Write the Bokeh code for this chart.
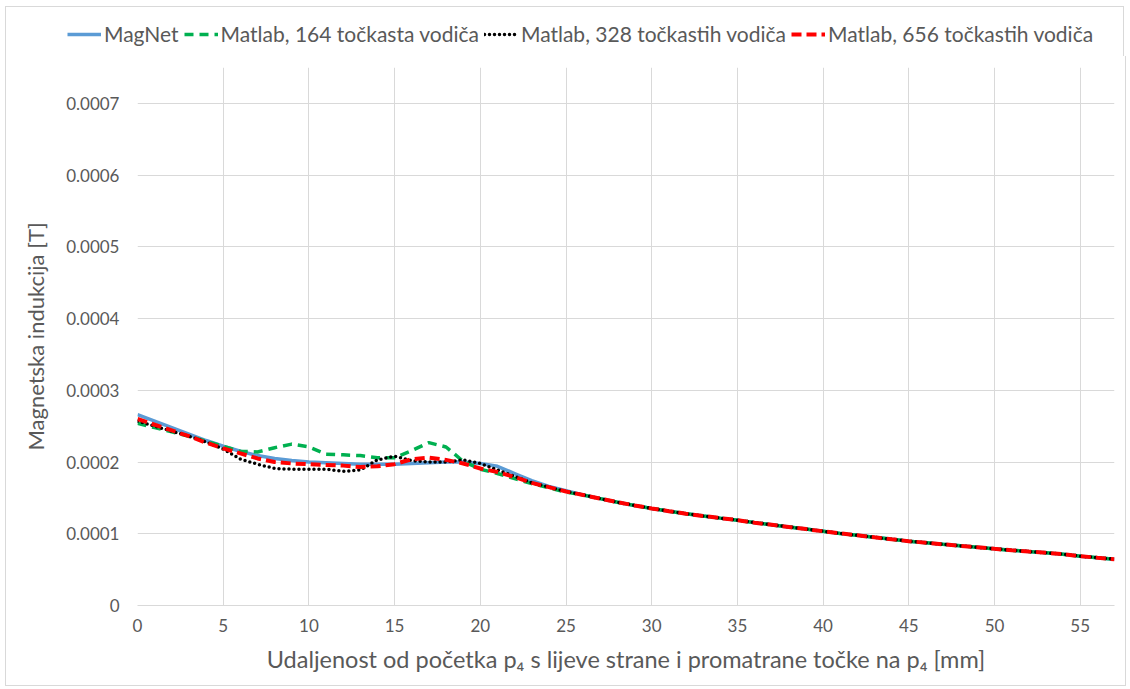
from bokeh.plotting import figure
from bokeh.models import Legend, LegendItem, FixedTicker, CustomJSTickFormatter, Range1d
from bokeh.embed import file_html
from bokeh.resources import INLINE

# distance along p4 [mm]
x_mm = list(range(0, 58))

# common tail (26..57 mm) where all curves coincide
tail = [0.000154, 0.000149, 0.000144, 0.0001395, 0.0001353, 0.0001315, 0.000128, 0.0001248,
        0.0001218, 0.000119, 0.0001155, 0.0001125, 0.0001095, 0.0001065, 0.0001035, 0.0001005,
        0.0000978, 0.000095, 0.0000923, 0.0000897, 0.0000875, 0.0000853, 0.0000832, 0.0000811,
        0.000079, 0.000077, 0.0000752, 0.0000735, 0.0000715, 0.0000688, 0.0000666, 0.0000645]

magnet_head = [0.000266, 0.000257, 0.000248, 0.000239, 0.000230, 0.000222, 0.000215, 0.000209,
               0.000205, 0.000202, 0.000200, 0.000199, 0.000198, 0.000197, 0.000197, 0.000197,
               0.000198, 0.000199, 0.000200, 0.000200, 0.000198, 0.000194, 0.000184, 0.000174,
               0.000166, 0.000160]
m164_head = [0.000254, 0.000248, 0.000242, 0.000236, 0.000229, 0.000222, 0.000215, 0.000214,
             0.000220, 0.000225, 0.000221, 0.000211, 0.000210, 0.000209, 0.000206, 0.000206,
             0.000216, 0.000227, 0.000221, 0.000201, 0.000190, 0.000184, 0.000177, 0.000170,
             0.000164, 0.000158]
m328_head = [0.000257, 0.000250, 0.000243, 0.000236, 0.000228, 0.000218, 0.000204, 0.000197,
             0.000191, 0.000190, 0.000190, 0.000190, 0.000187, 0.000189, 0.000203, 0.000208,
             0.000202, 0.000200, 0.000200, 0.000203, 0.000198, 0.000189, 0.000180, 0.000171,
             0.000165, 0.000159]
m656_head = [0.000260, 0.000252, 0.000244, 0.000236, 0.000227, 0.000219, 0.000212, 0.000205,
             0.000200, 0.000198, 0.000197, 0.000196, 0.000195, 0.000193, 0.000194, 0.000197,
             0.000204, 0.000206, 0.000203, 0.000198, 0.000191, 0.000186, 0.000179, 0.000171,
             0.000165, 0.000159]

magnet = magnet_head + tail
matlab_164 = m164_head + tail
matlab_328 = m328_head + tail
matlab_656 = m656_head + tail

x_ticks = [0, 5, 10, 15, 20, 25, 30, 35, 40, 45, 50, 55]
y_ticks = [0, 0.0001, 0.0002, 0.0003, 0.0004, 0.0005, 0.0006, 0.0007]

names = ["MagNet", "Matlab, 164 točkasta vodiča", "Matlab, 328 točkastih vodiča",
         "Matlab, 656 točkastih vodiča"]

FONT = "Lato"
GREY = "#595959"
BORDER = "1px solid #D9D9D9"

styles = [
    dict(line_color="#5B9BD5", line_width=3.5),
    dict(line_color="#00B050", line_width=3.5, line_dash="9 6"),
    dict(line_color="#000000", line_width=3.5, line_dash="0 5", line_cap="round"),
    dict(line_color="#FF0000", line_width=4, line_dash="10 5"),
]
series = [magnet, matlab_164, matlab_328, matlab_656]

# ---- legend strip above the chart (series drawn out of view, only the legend shows) ----
lg = figure(width=1119, height=50, output_backend="svg", toolbar_location=None,
            x_range=Range1d(1000, 1001), y_range=Range1d(1000, 1001),
            x_axis_location=None, y_axis_location=None,
            min_border_left=0, min_border_right=0, min_border_top=0, min_border_bottom=0)
lg.outline_line_color = None
lg.grid.visible = False
lg.styles = {"border-top": BORDER, "border-left": BORDER, "border-right": BORDER,
             "margin": "6px 0px 0px 5px"}
items = []
for n, ys, st in zip(names, series, styles):
    r = lg.line(x_mm, ys, **st)
    items.append(LegendItem(label=n, renderers=[r]))
legend = Legend(items=items, orientation="horizontal", location=(61, 11),
                label_text_font=FONT, label_text_font_size="21px", label_text_color=GREY,
                glyph_width=34, glyph_height=24, label_standoff=3, spacing=5,
                padding=0, margin=0, border_line_color=None, background_fill_alpha=0)
lg.add_layout(legend, "center")

# ---- main chart ----
p = figure(frame_width=977, frame_height=538, output_backend="svg", toolbar_location=None,
           x_range=Range1d(0, 57), y_range=Range1d(0, 0.00075),
           min_border_left=131, min_border_right=11, min_border_top=11, min_border_bottom=80)
p.outline_line_color = None
p.styles = {"border-bottom": BORDER, "border-left": BORDER, "border-right": BORDER,
            "margin": "0px 0px 0px 5px"}

p.xgrid.grid_line_color = "#D9D9D9"
p.ygrid.grid_line_color = "#D9D9D9"
p.xaxis.ticker = FixedTicker(ticks=x_ticks)
p.yaxis.ticker = FixedTicker(ticks=y_ticks)
p.yaxis.formatter = CustomJSTickFormatter(code="return tick == 0 ? '0' : tick.toFixed(4);")

for ax in (p.xaxis[0], p.yaxis[0]):
    ax.major_tick_line_color = None
    ax.minor_tick_line_color = None
    ax.major_label_text_font = FONT
    ax.major_label_text_font_size = "17px"
    ax.major_label_text_color = GREY
    ax.axis_label_text_font = FONT
    ax.axis_label_text_color = GREY
    ax.axis_label_text_font_style = "normal"
p.xaxis.axis_label_text_font_size = "23.5px"
p.yaxis.axis_label_text_font_size = "22px"
p.xaxis.axis_line_color = "#D9D9D9"
p.yaxis.axis_line_color = None
p.xaxis.axis_label = "Udaljenost od početka p₄ s lijeve strane i promatrane točke na p₄ [mm]"
p.yaxis.axis_label = "Magnetska indukcija [T]"
p.xaxis.major_label_standoff = 7
p.yaxis.major_label_standoff = 12
p.xaxis.axis_label_standoff = 10
p.yaxis.axis_label_standoff = 14

for ys, st in zip(series, styles):
    p.line(x_mm, ys, **st)

open("out.html", "w").write(file_html([lg, p], INLINE))
